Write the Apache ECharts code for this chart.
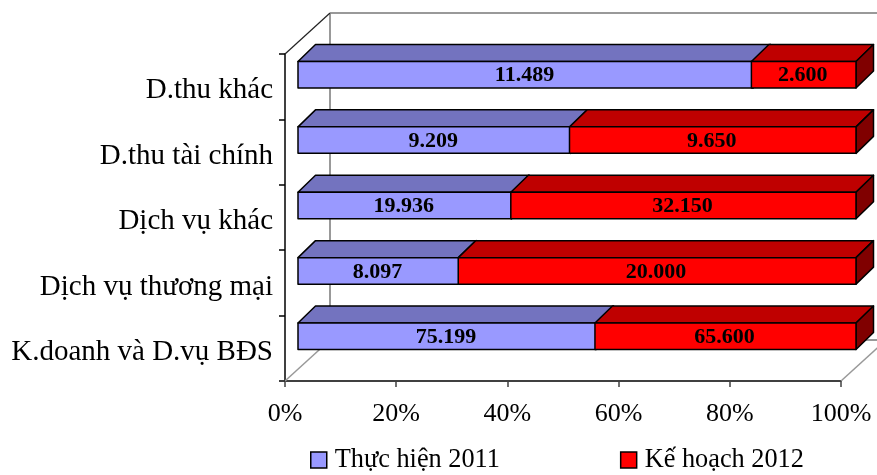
<!DOCTYPE html>
<html>
<head>
<meta charset="utf-8">
<style>html,body{margin:0;padding:0;background:#fff}#main{width:877px;height:475px}</style>
<script src="https://cdn.jsdelivr.net/npm/echarts@6/dist/echarts.min.js"></script>
</head>
<body>
<div id="main"></div>
<script>
// du lieu doc tu hinh, thu tu tu duoi len
var categories = ['K.doanh và D.vụ BĐS', 'Dịch vụ thương mại', 'Dịch vụ khác', 'D.thu tài chính', 'D.thu khác'];
var thucHien2011 = [75199, 8097, 19936, 9209, 11489];
var keHoach2012 = [65600, 20000, 32150, 9650, 2600];
var percentTicks = [0, 20, 40, 60, 80, 100];

var FONT = '"Liberation Serif", serif';
// do sau gia 3D
var WALL_DX = 45, WALL_DY = 41;   // khung
var GAP_DX = 13, GAP_DY = 12;     // tu mat truoc khung den mat truoc thanh
var BAR_DX = 17.5, BAR_DY = 17;   // be day thanh
var BAR_H = 26.5;

function fmt(v) {
	return String(v).replace(/\B(?=(\d{3})(\d{3})*$)/g, '.');
}
function poly(points, fill) {
	return {
		type: 'polygon',
		shape: {points: points},
		style: {fill: fill, stroke: '#000', lineWidth: 1.5, lineJoin: 'round'}
	};
}
function line(x1, y1, x2, y2, color, w) {
	return {
		type: 'line',
		shape: {x1: x1, y1: y1, x2: x2, y2: y2},
		style: {stroke: color, lineWidth: w}
	};
}

function barRenderer(front, top, side) {
	return function (params, api) {
		var cat = api.value(0);
		var from = api.coord([api.value(1), cat]);
		var to = api.coord([api.value(2), cat]);
		var x1 = from[0] + GAP_DX, x2 = to[0] + GAP_DX + 2 * api.value(2) / 100;
		var yTop = from[1] - GAP_DY - BAR_H / 2, yBot = yTop + BAR_H;
		return {
			type: 'group',
			children: [
				poly([[x1, yTop], [x1 + BAR_DX, yTop - BAR_DY], [x2 + BAR_DX, yTop - BAR_DY], [x2, yTop]], top),
				poly([[x2, yTop], [x2 + BAR_DX, yTop - BAR_DY], [x2 + BAR_DX, yBot - BAR_DY], [x2, yBot]], side),
				poly([[x1, yTop], [x2, yTop], [x2, yBot], [x1, yBot]], front),
				{
					type: 'text',
					style: {
						text: fmt(api.value(3)),
						x: (x1 + x2) / 2 - 1,
						y: (yTop + yBot) / 2 + 1,
						align: 'center',
						verticalAlign: 'middle',
						font: 'bold 22px ' + FONT,
						fill: '#000'
					}
				}
			]
		};
	};
}

function wallRenderer(params) {
	var c = params.coordSys;
	var l = c.x, r = c.x + c.width, t = c.y, b = c.y + c.height;
	return {
		type: 'group',
		children: [
			line(l + WALL_DX, t - WALL_DY, r + WALL_DX, t - WALL_DY, '#999', 2),
			line(l + WALL_DX, t - WALL_DY, l + WALL_DX, b - WALL_DY, '#999', 2),
			line(l + WALL_DX, b - WALL_DY, r + WALL_DX, b - WALL_DY, '#999', 2),
			line(l, b, l + WALL_DX, b - WALL_DY, '#999', 1.5),
			line(r, b, r + WALL_DX, b - WALL_DY, '#999', 1.5),
			line(l, t, l + WALL_DX, t - WALL_DY, '#222', 1.2)
		]
	};
}

var rows2011 = [], rows2012 = [];
categories.forEach(function (name, i) {
	var total = thucHien2011[i] + keHoach2012[i];
	var p = thucHien2011[i] / total * 100;
	rows2011.push([i, 0, p, thucHien2011[i]]);
	rows2012.push([i, p, 100, keHoach2012[i]]);
});

var myChart = echarts.init(document.getElementById('main'));
var option = {
	animation: false,
	backgroundColor: '#fff',
	grid: {left: 285, right: 36, top: 54, bottom: 94},
	legend: {
		data: ['Thực hiện 2011', 'Kế hoạch 2012'],
		left: 310,
		top: 447,
		padding: 0,
		icon: 'rect',
		itemWidth: 16,
		itemHeight: 16,
		itemGap: 120,
		itemStyle: {borderColor: '#000', borderWidth: 1.5},
		textStyle: {fontFamily: FONT, fontSize: 26.3, color: '#000', verticalAlign: 'top', lineHeight: 16, padding: [5, 0, 0, 3]}
	},
	xAxis: {
		type: 'value',
		min: 0,
		max: 100,
		interval: percentTicks[1],
		splitLine: {show: false},
		axisLine: {show: true, lineStyle: {color: '#404040', width: 2}},
		axisTick: {show: true, length: 6, lineStyle: {color: '#404040', width: 1.5}},
		axisLabel: {
			margin: 20,
			fontFamily: FONT,
			fontSize: 26,
			color: '#000',
			formatter: '{value}%'
		}
	},
	yAxis: {
		type: 'category',
		data: categories,
		axisLine: {show: true, lineStyle: {color: '#000', width: 1.5}},
		axisTick: {show: true, length: 6, lineStyle: {color: '#000', width: 1.5}},
		axisLabel: {
			margin: 12,
			verticalAlign: 'top',
			lineHeight: 8,
			fontFamily: FONT,
			fontSize: 29,
			color: '#000'
		}
	},
	series: [
		{
			name: 'khung',
			type: 'custom',
			renderItem: wallRenderer,
			data: [[0]],
			silent: true,
			z: 1
		},
		{
			name: 'Thực hiện 2011',
			type: 'custom',
			renderItem: barRenderer('#9999ff', '#7373bf', '#4d4d80'),
			data: rows2011,
			itemStyle: {color: '#9999ff'},
			encode: {x: [1, 2], y: 0},
			z: 3
		},
		{
			name: 'Kế hoạch 2012',
			type: 'custom',
			renderItem: barRenderer('#ff0000', '#bf0000', '#800000'),
			data: rows2012,
			itemStyle: {color: '#ff0000'},
			encode: {x: [1, 2], y: 0},
			z: 4
		}
	]
};
myChart.setOption(option);
</script>
</body>
</html>
